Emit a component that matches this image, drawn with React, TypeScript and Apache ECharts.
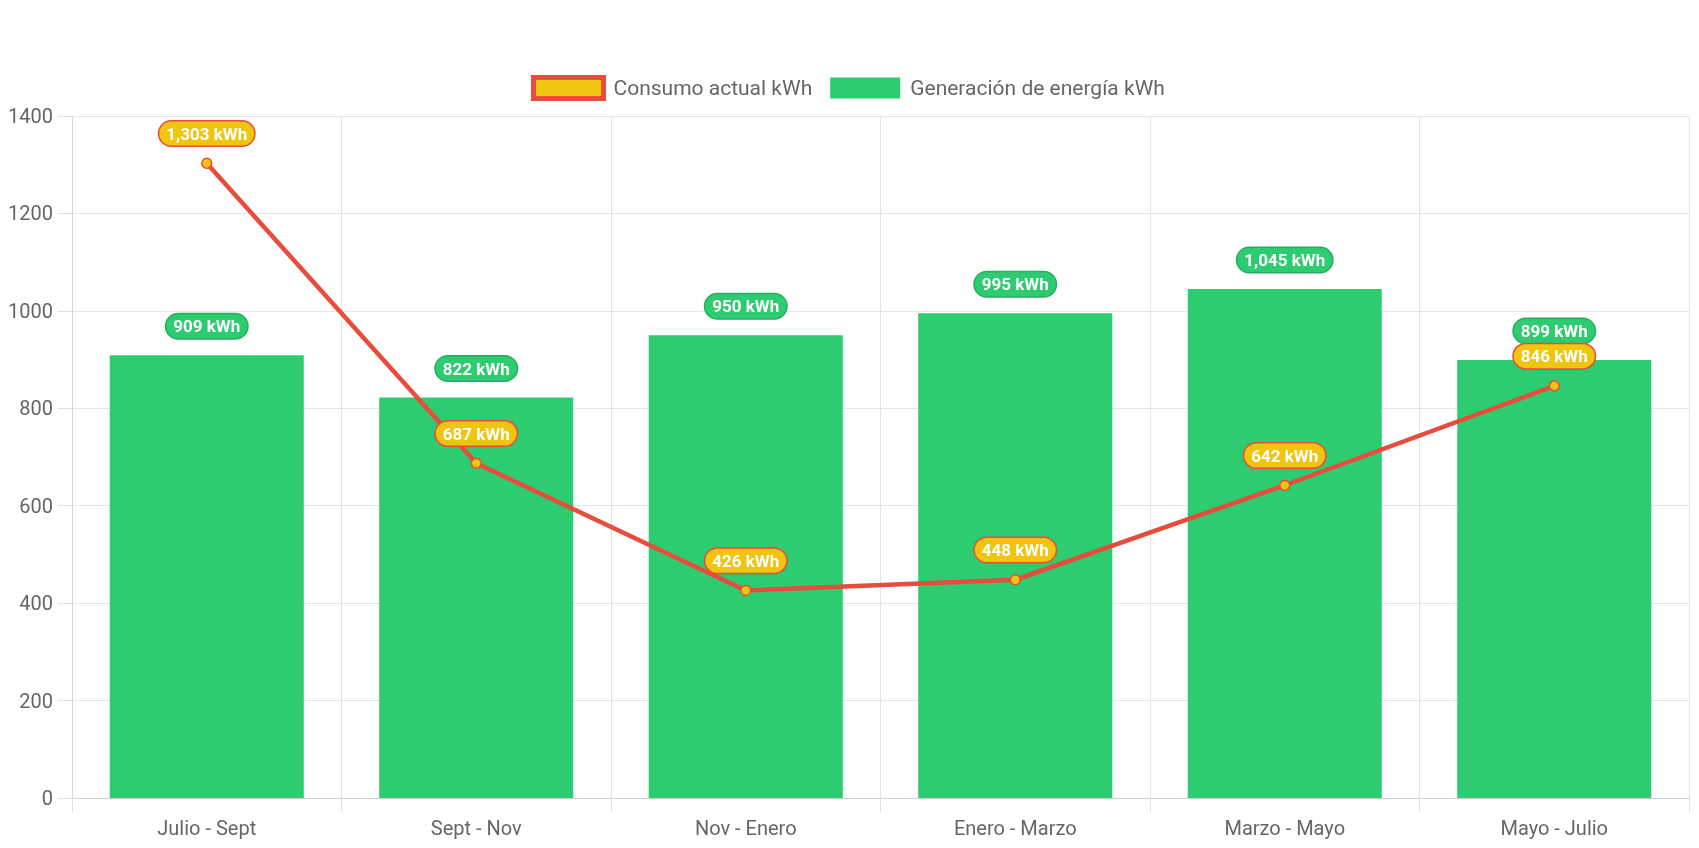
import React, { useEffect, useRef } from "react";
import * as echarts from "echarts";

const categories = ["Julio - Sept", "Sept - Nov", "Nov - Enero", "Enero - Marzo", "Marzo - Mayo", "Mayo - Julio"];
const consumo = [1303, 687, 426, 448, 642, 846];
const generacion = [909, 822, 950, 995, 1045, 899];
const yMax = 1400;
const yInterval = 200;

const fmt = (v: number) => v.toLocaleString("en-US") + " kWh";

const FONT = "Roboto";
const RED = "#e74c3c";
const YELLOW = "#f1c40f";
const GREEN = "#2ecc71";
const GREEN_DARK = "#27ae60";

export default function App() {
  const ref = useRef<HTMLDivElement>(null);
  useEffect(() => {
    if (!ref.current) return;
    const chart = echarts.init(ref.current, null, { renderer: "svg" });
    chart.setOption({
      animation: false,
      textStyle: { fontFamily: FONT },
      legend: {
        top: 70,
        left: 526,
        itemWidth: 70,
        itemHeight: 21,
        itemGap: 18,
        textStyle: { fontSize: 21, color: "#666", fontFamily: FONT, padding: [0, 0, 0, 5] },
        data: [
          { name: "Consumo actual kWh", icon: "rect", itemStyle: { color: YELLOW, borderColor: RED, borderWidth: 5 } },
          { name: "Generación de energía kWh", icon: "rect", itemStyle: { color: GREEN, borderWidth: 0 } },
        ],
      },
      grid: { left: 72, right: 10, top: 116, bottom: 50, containLabel: false },
      xAxis: {
        type: "category",
        data: categories,
        boundaryGap: true,
        axisLine: { show: true, lineStyle: { color: "#d0d0d0", width: 1 } },
        axisTick: { show: true, length: 14, lineStyle: { color: "#e0e0e0" } },
        splitLine: { show: true, lineStyle: { color: "#e5e5e5", width: 1 } },
        axisLabel: { fontSize: 20, color: "#666", margin: 20, fontFamily: FONT },
      },
      yAxis: {
        type: "value",
        min: 0,
        max: yMax,
        interval: yInterval,
        axisLine: { show: true, lineStyle: { color: "#d6d6d6", width: 1 } },
        axisTick: { show: true, length: 14, lineStyle: { color: "#e0e0e0" } },
        splitLine: { show: true, lineStyle: { color: "#e5e5e5", width: 1 } },
        axisLabel: { fontSize: 20, color: "#666", margin: 19, fontFamily: FONT, formatter: (v: number) => String(v) },
      },
      series: [
        {
          name: "Consumo actual kWh",
          type: "line",
          data: consumo,
          z: 5,
          symbol: "circle",
          symbolSize: 10,
          showAllSymbol: true,
          lineStyle: { color: RED, width: 4.5 },
          itemStyle: { color: YELLOW, borderColor: RED, borderWidth: 1.5 },
          label: {
            show: true,
            position: "top",
            distance: 12,
            formatter: (p: any) => fmt(p.value),
            color: "#fff",
            fontWeight: "bold",
            fontSize: 17,
            lineHeight: 18,
            fontFamily: FONT,
            backgroundColor: YELLOW,
            borderColor: RED,
            borderWidth: 1.5,
            borderRadius: 12,
            padding: [3, 7],
          },
          emphasis: { disabled: true },
        },
        {
          name: "Generación de energía kWh",
          type: "bar",
          data: generacion,
          z: 2,
          barWidth: "72%",
          itemStyle: { color: GREEN },
          label: {
            show: true,
            position: "top",
            distance: 17,
            formatter: (p: any) => fmt(p.value),
            color: "#fff",
            fontWeight: "bold",
            fontSize: 17,
            lineHeight: 18,
            fontFamily: FONT,
            backgroundColor: GREEN,
            borderColor: GREEN_DARK,
            borderWidth: 1.5,
            borderRadius: 12,
            padding: [3, 7],
          },
          emphasis: { disabled: true },
        },
      ],
    });
    return () => chart.dispose();
  }, []);
  return <div ref={ref} style={{ position: "fixed", left: 0, top: 0, width: 1699, height: 848 }} />;
}
